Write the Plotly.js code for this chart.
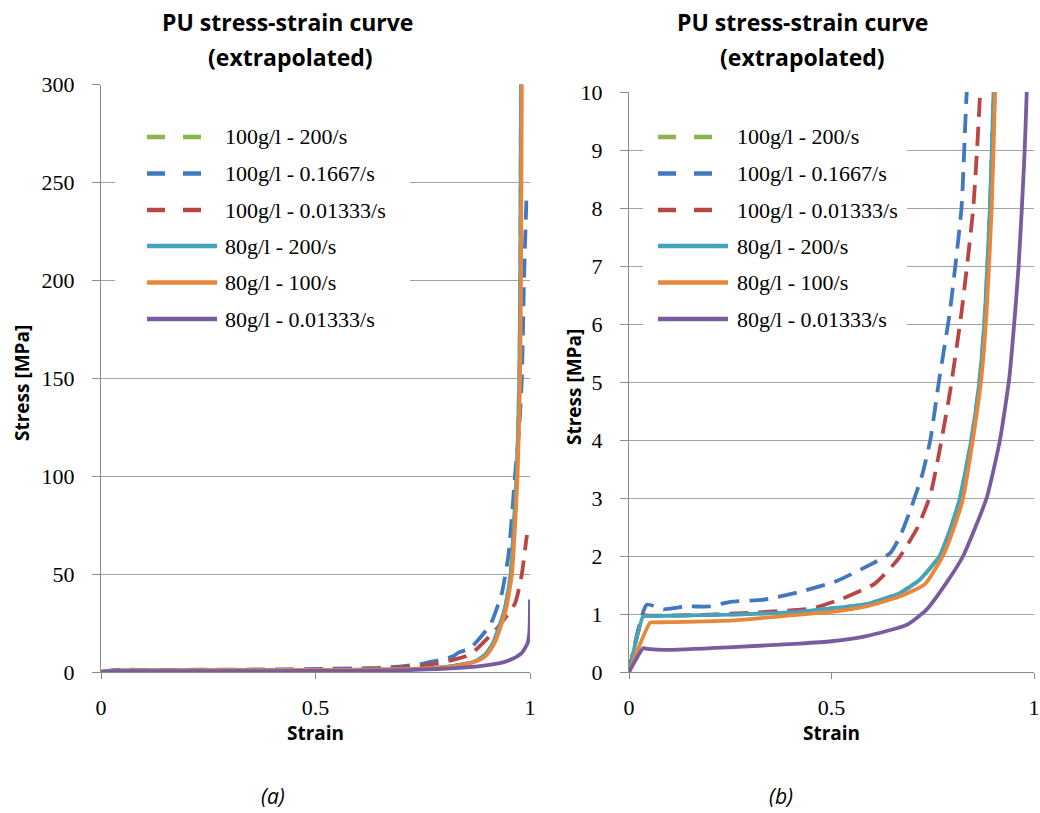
<!DOCTYPE html>
<html>
<head>
<meta charset="utf-8">
<script src="https://cdn.plot.ly/plotly-3.0.1.min.js"></script>
<style>
  html, body { margin: 0; padding: 0; background: #ffffff; }
  #chart { width: 1040px; height: 813px; }
</style>
</head>
<body>
<div id="chart"></div>
<script>
// ---------------- DATA ----------------
const seriesNames = ['100g/l - 200/s', '100g/l - 0.1667/s', '100g/l - 0.01333/s',
                     '80g/l - 200/s', '80g/l - 100/s', '80g/l - 0.01333/s'];

// 100g/l - 200/s (hidden beneath 80g/l - 200/s in the original)
const strain100_200 = [0, 0.035, 0.045, 0.1, 0.257, 0.42, 0.504, 0.586, 0.668, 0.718, 0.767, 0.795, 0.817, 0.845, 0.865, 0.879, 0.891, 0.9, 0.916, 0.941, 0.955, 0.961, 0.969, 0.975, 0.977, 0.979, 0.98];
const stress100_200 = [0, 0.96, 0.965, 0.97, 0.99, 1.04, 1.1, 1.17, 1.36, 1.59, 2.0, 2.5, 3.0, 4.0, 5.0, 6.2, 8.0, 10, 16, 32, 50, 70, 100, 150, 200, 300, 320];

// 100g/l - 0.1667/s
const strain100_01667 = [0, 0.044, 0.085, 0.14, 0.2, 0.25, 0.335, 0.42, 0.51, 0.59, 0.645, 0.67, 0.695, 0.724, 0.744, 0.765, 0.792, 0.821, 0.834, 0.86, 0.907, 0.934, 0.95, 0.957, 0.965, 0.975, 0.981, 0.986, 0.992];
const stress100_01667 = [0, 1.16, 1.08, 1.13, 1.13, 1.21, 1.25, 1.38, 1.56, 1.83, 2.05, 2.35, 2.8, 3.4, 4.0, 5.0, 6.2, 8.0, 10, 12, 24, 40, 60, 77, 100, 125, 150, 200, 244];

// 100g/l - 0.01333/s
const strain100_001333 = [0, 0.035, 0.045, 0.1, 0.2, 0.3, 0.414, 0.455, 0.525, 0.606, 0.665, 0.713, 0.744, 0.765, 0.792, 0.821, 0.85, 0.867, 0.922, 0.965, 0.981, 0.991, 0.993];
const stress100_001333 = [0, 0.98, 0.975, 0.97, 0.99, 1.02, 1.07, 1.1, 1.26, 1.52, 1.95, 2.5, 3.05, 3.75, 4.8, 6.2, 8.0, 10, 22, 35, 50, 67, 70];

// 80g/l - 200/s
const strain80_200 = [0, 0.035, 0.045, 0.1, 0.257, 0.42, 0.504, 0.586, 0.668, 0.718, 0.767, 0.795, 0.817, 0.845, 0.865, 0.879, 0.891, 0.9, 0.916, 0.941, 0.955, 0.961, 0.969, 0.975, 0.977, 0.979, 0.98];
const stress80_200 = [0, 0.96, 0.965, 0.97, 0.99, 1.04, 1.1, 1.17, 1.36, 1.59, 2.0, 2.5, 3.0, 4.0, 5.0, 6.2, 8.0, 10, 16, 32, 50, 70, 100, 150, 200, 300, 320];

// 80g/l - 100/s
const strain80_100 = [0, 0.052, 0.062, 0.1, 0.257, 0.42, 0.504, 0.586, 0.668, 0.73, 0.775, 0.803, 0.825, 0.849, 0.869, 0.883, 0.8955, 0.904, 0.92, 0.944, 0.958, 0.964, 0.971, 0.977, 0.979, 0.981, 0.982];
const stress80_100 = [0, 0.85, 0.855, 0.86, 0.89, 0.99, 1.04, 1.13, 1.3, 1.51, 2.0, 2.5, 3.0, 4.0, 5.0, 6.2, 8.0, 10, 16, 32, 50, 70, 100, 150, 200, 300, 320];

// 80g/l - 0.01333/s
const strain80_001333 = [0, 0.035, 0.045, 0.09, 0.257, 0.42, 0.5, 0.586, 0.685, 0.734, 0.784, 0.825, 0.883, 0.916, 0.939, 0.953, 0.962, 0.97, 0.977, 0.982, 0.994, 0.998, 0.9995, 1.0];
const stress80_001333 = [0, 0.41, 0.4, 0.38, 0.43, 0.49, 0.53, 0.62, 0.81, 1.07, 1.54, 2.0, 3.0, 4.0, 5.07, 6.17, 7.0, 8.0, 9.0, 10, 14.5, 19, 26, 37];

const xTicks = [0, 0.5, 1];
const xTickLabels = ['0', '0.5', '1'];
const yTicksA = [0, 50, 100, 150, 200, 250, 300];
const yTicksB = [0, 1, 2, 3, 4, 5, 6, 7, 8, 9, 10];

// ---------------- STYLE ----------------
const W = 1040, H = 813;
const px = v => v / W;
const py = v => 1 - v / H;

const strainSeries = [strain100_200, strain100_01667, strain100_001333, strain80_200, strain80_100, strain80_001333];
const stressSeries = [stress100_200, stress100_01667, stress100_001333, stress80_200, stress80_100, stress80_001333];
const colors = ['#8EB44F', '#4178BE', '#BA4643', '#44A3BD', '#E8873A', '#7A5C9E'];
const dashes = ['19px,10px', '19px,10px', '19px,10px', 'solid', 'solid', 'solid'];
const lineW = 3.8;

const traces = [];
['x', 'x2'].forEach((xa, k) => {
  for (let i = 0; i < seriesNames.length; i++) {
    traces.push({
      type: 'scatter', mode: 'lines',
      x: strainSeries[i], y: stressSeries[i],
      xaxis: xa, yaxis: k === 0 ? 'y' : 'y2',
      name: seriesNames[i], showlegend: false, hoverinfo: 'x+y+name',
      line: { color: colors[i], width: lineW, dash: dashes[i], shape: 'spline', smoothing: 0.5 }
    });
  }
});

const serif = 'Liberation Serif, Times New Roman, serif';
const sans = 'Open Sans, Lato, Liberation Sans, sans-serif';
const gridC = '#a3a3a3', lineC = '#8c8c8c', txtC = '#000000';

function xAxis(domain, anchor) {
  return {
    domain: domain, anchor: anchor, range: [0, 1], fixedrange: true,
    tickvals: xTicks, ticktext: xTickLabels,
    showgrid: false, zeroline: false, showline: true, linecolor: lineC, linewidth: 1,
    ticks: 'outside', ticklen: 6, tickcolor: lineC, tickwidth: 1,
    ticklabelstandoff: 10,
    tickfont: { family: serif, size: 22, color: txtC },
    title: { text: 'Strain', standoff: 4, font: { family: sans, size: 19, color: txtC, weight: 'bold' } }
  };
}
function yAxis(domain, anchor, range, tv) {
  return {
    domain: domain, anchor: anchor, range: range, fixedrange: true,
    tickvals: tv,
    showgrid: true, gridcolor: gridC, gridwidth: 1,
    zeroline: false, showline: true, linecolor: lineC, linewidth: 1,
    ticks: 'outside', ticklen: 8, tickcolor: lineC, tickwidth: 1,
    ticklabelstandoff: 13,
    tickfont: { family: serif, size: 22, color: txtC }
  };
}

// ---------------- LEGENDS (drawn in each panel) ----------------
const legendRows = [137, 173.5, 210, 246, 282.5, 319];
const legendCfg = [
  { box: [115, 108, 410, 345], x0: 147, text: 223 },
  { box: [643, 108, 907, 345], x0: 658, text: 735 }
];
const shapes = [];
const annotations = [];
legendCfg.forEach(cfg => {
  shapes.push({ type: 'rect', xref: 'paper', yref: 'paper',
    x0: px(cfg.box[0]), x1: px(cfg.box[2]), y0: py(cfg.box[3]), y1: py(cfg.box[1]),
    fillcolor: '#ffffff', line: { width: 0 }, layer: 'above' });
  seriesNames.forEach((nm, i) => {
    const dashed = dashes[i] !== 'solid';
    shapes.push({ type: 'line', xref: 'paper', yref: 'paper',
      x0: px(cfg.x0), x1: px(cfg.x0 + (dashed ? 54 : 70)),
      y0: py(legendRows[i]), y1: py(legendRows[i]),
      line: { color: colors[i], width: 4.5, dash: dashed ? '18px,18px' : 'solid' }, layer: 'above' });
    annotations.push({ xref: 'paper', yref: 'paper', x: px(cfg.text), y: py(legendRows[i]),
      xanchor: 'left', yanchor: 'middle', showarrow: false, text: nm,
      font: { family: serif, size: 22, color: txtC } });
  });
});

// chart titles
[[287, 'PU stress-strain curve', 22], [290, '(extrapolated)', 57],
 [802, 'PU stress-strain curve', 22], [802, '(extrapolated)', 57]].forEach(t => {
  annotations.push({ xref: 'paper', yref: 'paper', x: px(t[0]), y: py(t[2]),
    xanchor: 'center', yanchor: 'middle', showarrow: false, text: t[1],
    font: { family: sans, size: 23, color: txtC, weight: 'bold' } });
});
// y-axis titles
[[22, 383], [574, 387]].forEach(a => {
  annotations.push({ xref: 'paper', yref: 'paper', x: px(a[0]), y: py(a[1]),
    xanchor: 'center', yanchor: 'middle', showarrow: false, textangle: -90,
    text: 'Stress [MPa]', font: { family: sans, size: 19, color: txtC, weight: 'bold' } });
});
// captions (kept fully inside the page)
[[273, '(a)'], [781, '(b)']].forEach(c => {
  annotations.push({ xref: 'paper', yref: 'paper', x: px(c[0]), y: py(796),
    xanchor: 'center', yanchor: 'middle', showarrow: false, text: '<i>' + c[1] + '</i>',
    font: { family: sans, size: 21, color: txtC } });
});

const layout = {
  width: W, height: H,
  margin: { l: 0, r: 0, t: 0, b: 0 },
  paper_bgcolor: '#ffffff', plot_bgcolor: '#ffffff',
  showlegend: false,
  xaxis: xAxis([px(101), px(530)], 'y'),
  yaxis: yAxis([py(672), py(84.5)], 'x', [0, 300], yTicksA),
  xaxis2: xAxis([px(629), px(1034)], 'y2'),
  yaxis2: yAxis([py(672), py(92)], 'x2', [0, 10], yTicksB),
  shapes: shapes,
  annotations: annotations
};

Plotly.newPlot('chart', traces, layout, { displayModeBar: false, staticPlot: true });
</script>
</body>
</html>
